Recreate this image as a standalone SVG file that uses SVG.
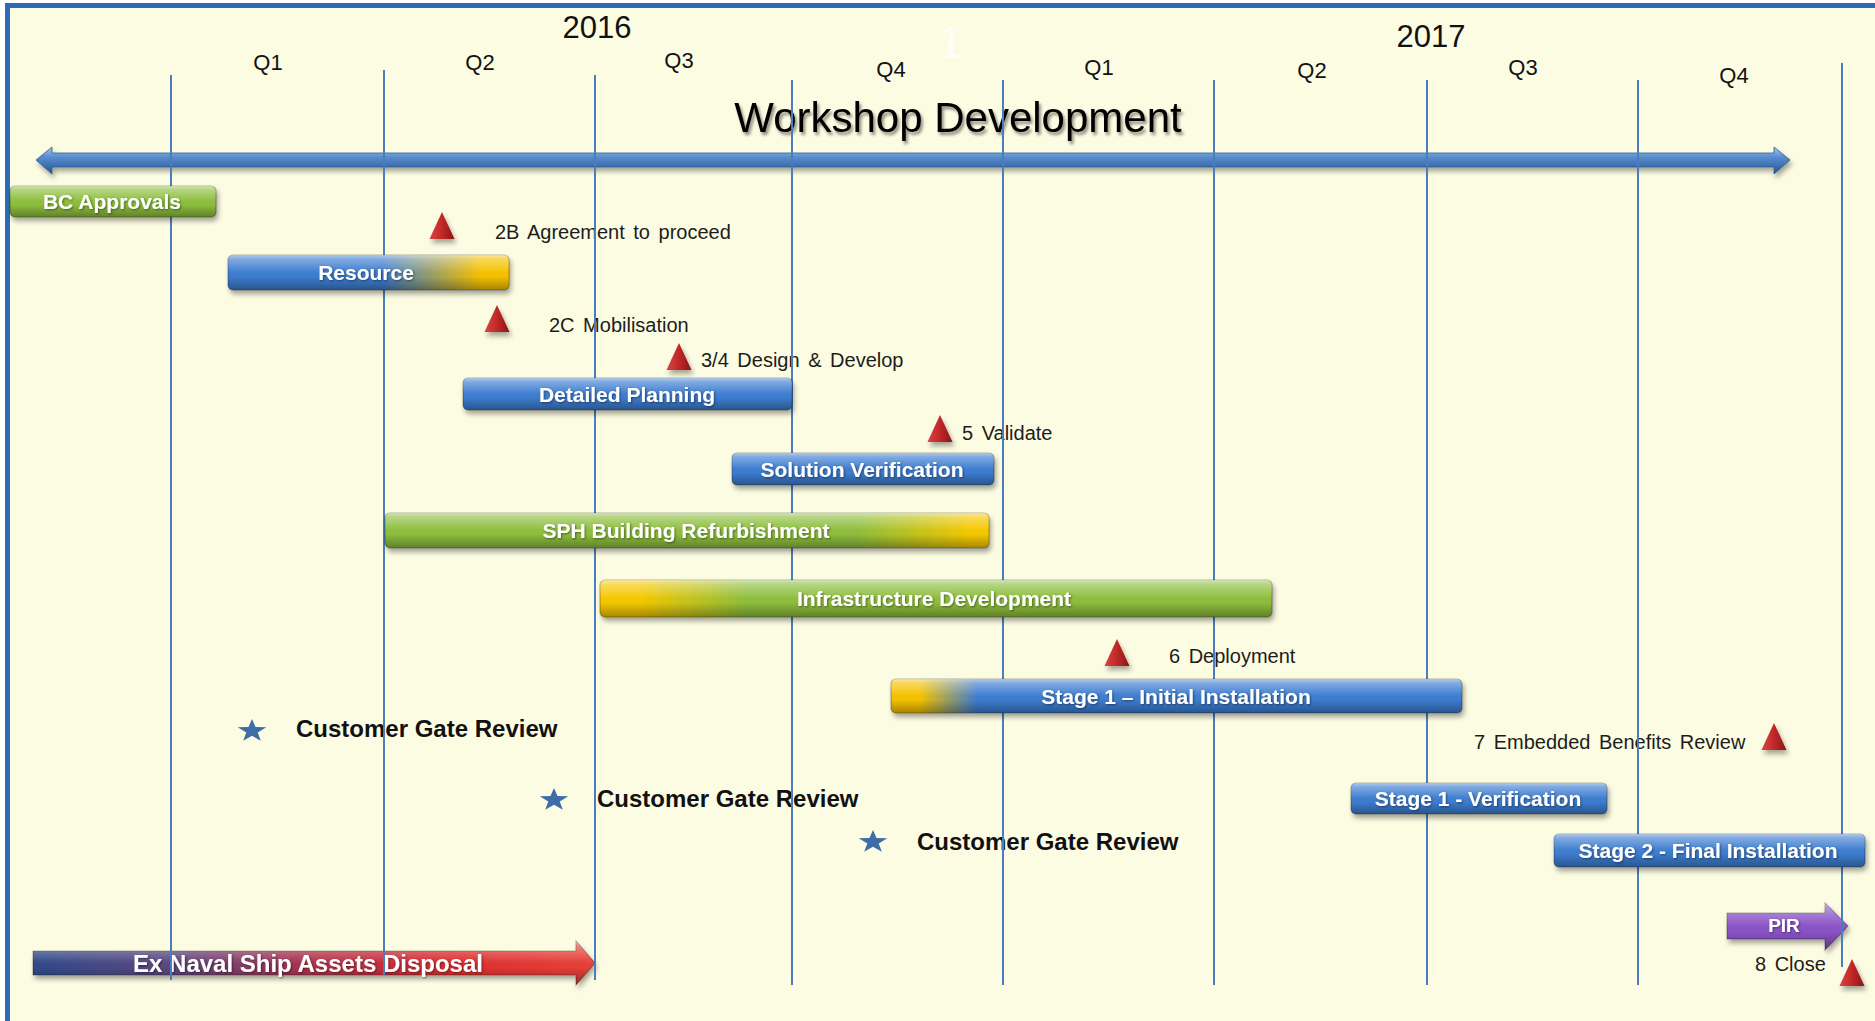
<svg xmlns="http://www.w3.org/2000/svg" width="1875" height="1021" viewBox="0 0 1875 1021">
<defs>
<style>
.frame{fill:#FCFCE3;stroke:#2C6CB6;stroke-width:5}
.grid line{stroke:#4A7DBE;stroke-width:2}
.q{font-family:"Liberation Sans",Arial,sans-serif;font-size:22px;fill:#111;text-anchor:middle}
.yr{font-family:"Liberation Sans",Arial,sans-serif;font-size:31px;fill:#111;text-anchor:middle}
.title{font-family:"Liberation Sans",Arial,sans-serif;font-size:42px;fill:#000;text-anchor:middle}
.bar .base{stroke:rgba(0,0,0,0.28);stroke-width:1.2}
.bar .gl{fill:url(#gloss)}
.bar text{font-family:"Liberation Sans",Arial,sans-serif;font-size:21px;font-weight:bold;fill:#fff;text-anchor:middle}
.ms text{font-family:"Liberation Sans",Arial,sans-serif;font-size:20px;fill:#1c1c1c;word-spacing:3px}
.gate text{font-family:"Liberation Sans",Arial,sans-serif;font-size:24px;font-weight:bold;fill:#111}
.star{fill:#3E6DA8}
</style>
<filter id="sh" x="-10%" y="-30%" width="125%" height="180%">
<feDropShadow dx="2" dy="4" stdDeviation="2.5" flood-color="#000" flood-opacity="0.35"/>
</filter>
<filter id="tsh" x="-5%" y="-20%" width="110%" height="150%">
<feDropShadow dx="2" dy="3" stdDeviation="1.6" flood-color="#000" flood-opacity="0.45"/>
</filter>
<filter id="lsh" x="-5%" y="-20%" width="110%" height="150%">
<feDropShadow dx="1" dy="1" stdDeviation="0.8" flood-color="#000" flood-opacity="0.45"/>
</filter>
<linearGradient id="gloss" x1="0" y1="0" x2="0" y2="1">
<stop offset="0" stop-color="#fff" stop-opacity="0.6"/>
<stop offset="0.12" stop-color="#fff" stop-opacity="0.35"/>
<stop offset="0.45" stop-color="#fff" stop-opacity="0.05"/>
<stop offset="0.6" stop-color="#000" stop-opacity="0"/>
<stop offset="1" stop-color="#000" stop-opacity="0.32"/>
</linearGradient>
<linearGradient id="gAxis" x1="0" y1="0" x2="0" y2="1">
<stop offset="0" stop-color="#A6CAEE"/>
<stop offset="0.35" stop-color="#5B8FD0"/>
<stop offset="0.7" stop-color="#3E6FB0"/>
<stop offset="1" stop-color="#2A4F82"/>
</linearGradient>
<linearGradient id="gRes" x1="0" y1="0" x2="1" y2="0">
<stop offset="0" stop-color="#3E7DD0"/>
<stop offset="0.55" stop-color="#3E7DD0"/>
<stop offset="0.9" stop-color="#F5C200"/>
<stop offset="1" stop-color="#F5C200"/>
</linearGradient>
<linearGradient id="gSPH" x1="0" y1="0" x2="1" y2="0">
<stop offset="0" stop-color="#8DBE3C"/>
<stop offset="0.78" stop-color="#8DBE3C"/>
<stop offset="0.97" stop-color="#F5C800"/>
<stop offset="1" stop-color="#F5C800"/>
</linearGradient>
<linearGradient id="gInfra" x1="0" y1="0" x2="1" y2="0">
<stop offset="0" stop-color="#F5C800"/>
<stop offset="0.06" stop-color="#F5C800"/>
<stop offset="0.22" stop-color="#8DBE3C"/>
<stop offset="1" stop-color="#8DBE3C"/>
</linearGradient>
<linearGradient id="gSt1" x1="0" y1="0" x2="1" y2="0">
<stop offset="0" stop-color="#F5C200"/>
<stop offset="0.05" stop-color="#F5C200"/>
<stop offset="0.15" stop-color="#3E7DD0"/>
<stop offset="1" stop-color="#3E7DD0"/>
</linearGradient>
<linearGradient id="gNaval" x1="0" y1="0" x2="1" y2="0">
<stop offset="0" stop-color="#2F4A8A"/>
<stop offset="0.25" stop-color="#5E467E"/>
<stop offset="0.5" stop-color="#B0304A"/>
<stop offset="0.75" stop-color="#DC2E2E"/>
<stop offset="1" stop-color="#E8403A"/>
</linearGradient>
<linearGradient id="gTri" x1="0" y1="0" x2="1" y2="0">
<stop offset="0" stop-color="#DA4444"/>
<stop offset="0.5" stop-color="#C02828"/>
<stop offset="1" stop-color="#8A1616"/>
</linearGradient>
<g id="tri"><path d="M0,0 L12.5,27 L-12.5,27 Z" fill="url(#gTri)" filter="url(#sh)"/></g>
<path id="star" d="M0,-12 L3.53,-3.88 L14.27,-3.71 L5.71,1.48 L8.82,9.71 L0,4.8 L-8.82,9.71 L-5.71,1.48 L-14.27,-3.71 L-3.53,-3.88 Z"/>
</defs>

<rect x="0" y="0" width="1875" height="1021" fill="#fff"/>
<rect class="frame" x="7.5" y="5.5" width="1900" height="1100"/>
<text x="950" y="58" font-family="Liberation Sans, Arial, sans-serif" font-size="44" fill="#fff" opacity="0.8" text-anchor="middle">1</text>

<g id="connectors">
<path id="timeline-axis" d="M36,160 L52,147 L52,153 L1774,153 L1774,147 L1790,160 L1774,174 L1774,167 L52,167 L52,174 Z" fill="url(#gAxis)" stroke="#2E5A92" stroke-width="0.8" filter="url(#sh)"/>
</g>

<g id="header">
<text class="yr" x="597" y="38">2016</text>
<text class="yr" x="1431" y="47">2017</text>
<text class="q" x="268" y="70">Q1</text>
<text class="q" x="480" y="70">Q2</text>
<text class="q" x="679" y="68">Q3</text>
<text class="q" x="891" y="77">Q4</text>
<text class="q" x="1099" y="75">Q1</text>
<text class="q" x="1312" y="78">Q2</text>
<text class="q" x="1523" y="75">Q3</text>
<text class="q" x="1734" y="83">Q4</text>
<text class="title" x="958" y="132" filter="url(#tsh)">Workshop Development</text>
</g>

<g id="arrow-ex-naval" class="bar">
<path class="base" d="M33,951 L576,951 L576,941 L595,963 L576,985 L576,975 L33,975 Z" fill="url(#gNaval)" filter="url(#sh)"/>
<path class="gl" d="M33,951 L576,951 L576,941 L595,963 L576,985 L576,975 L33,975 Z"/>
<text x="308" y="972" style="font-size:24px" filter="url(#lsh)">Ex Naval Ship Assets Disposal</text>
</g>

<g id="arrow-pir" class="bar">
<path class="base" d="M1727,913 L1825,913 L1825,903 L1848,926 L1825,950 L1825,939 L1727,939 Z" fill="#8A52C6" filter="url(#sh)"/>
<path class="gl" d="M1727,913 L1825,913 L1825,903 L1848,926 L1825,950 L1825,939 L1727,939 Z"/>
<text x="1784" y="932" style="font-size:19px" filter="url(#lsh)">PIR</text>
</g>

<g id="milestone-labels" class="ms">
<text id="lbl-2b" x="495" y="239">2B Agreement to proceed</text>
<text id="lbl-2c" x="549" y="332">2C Mobilisation</text>
<text id="lbl-34" x="701" y="367">3/4 Design &amp; Develop</text>
<text id="lbl-5" x="962" y="440">5 Validate</text>
<text id="lbl-6" x="1169" y="663">6 Deployment</text>
<text id="lbl-7" x="1474" y="749">7 Embedded Benefits Review</text>
<text id="lbl-8" x="1755" y="971">8 Close</text>
</g>

<g id="gate-1" class="gate"><use href="#star" class="star" x="252" y="731"/><text x="296" y="737">Customer Gate Review</text></g>
<g id="gate-2" class="gate"><use href="#star" class="star" x="554" y="800"/><text x="597" y="807">Customer Gate Review</text></g>
<g id="gate-3" class="gate"><use href="#star" class="star" x="873" y="842"/><text x="917" y="850">Customer Gate Review</text></g>

<g id="grid" class="grid">
<line x1="171" y1="75" x2="171" y2="980"/>
<line x1="384" y1="70" x2="384" y2="975"/>
<line x1="595" y1="75" x2="595" y2="980"/>
<line x1="792" y1="80" x2="792" y2="985"/>
<line x1="1003" y1="80" x2="1003" y2="985"/>
<line x1="1214" y1="80" x2="1214" y2="985"/>
<line x1="1427" y1="80" x2="1427" y2="985"/>
<line x1="1638" y1="80" x2="1638" y2="985"/>
<line x1="1842" y1="63" x2="1842" y2="967"/>
</g>

<g id="milestones">
<use id="ms-2b" href="#tri" x="442" y="212"/>
<use id="ms-2c" href="#tri" x="497" y="305"/>
<use id="ms-34" href="#tri" x="679" y="343"/>
<use id="ms-5" href="#tri" x="940" y="415"/>
<use id="ms-6" href="#tri" x="1117" y="639"/>
<use id="ms-7" href="#tri" x="1774" y="723"/>
<use id="ms-8" href="#tri" x="1852" y="959"/>
</g>

<g id="bar-bc-approvals" class="bar">
<rect class="base" x="10" y="186" width="206" height="31" rx="5" fill="#8DBE3C" filter="url(#sh)"/>
<rect class="gl" x="10" y="186" width="206" height="31" rx="5"/>
<text x="112" y="208.5" filter="url(#lsh)">BC Approvals</text>
</g>
<g id="bar-resource" class="bar">
<rect class="base" x="228" y="255" width="281" height="35" rx="5" fill="url(#gRes)" filter="url(#sh)"/>
<rect class="gl" x="228" y="255" width="281" height="35" rx="5"/>
<text x="366" y="280" filter="url(#lsh)">Resource</text>
</g>
<g id="bar-detailed-planning" class="bar">
<rect class="base" x="463" y="378" width="329" height="32" rx="5" fill="#3E7DD0" filter="url(#sh)"/>
<rect class="gl" x="463" y="378" width="329" height="32" rx="5"/>
<text x="627" y="401.5" filter="url(#lsh)">Detailed Planning</text>
</g>
<g id="bar-solution-verification" class="bar">
<rect class="base" x="732" y="453" width="262" height="32" rx="5" fill="#3E7DD0" filter="url(#sh)"/>
<rect class="gl" x="732" y="453" width="262" height="32" rx="5"/>
<text x="862" y="476.5" filter="url(#lsh)">Solution Verification</text>
</g>
<g id="bar-sph" class="bar">
<rect class="base" x="385" y="513" width="604" height="35" rx="5" fill="url(#gSPH)" filter="url(#sh)"/>
<rect class="gl" x="385" y="513" width="604" height="35" rx="5"/>
<text x="686" y="538" filter="url(#lsh)">SPH Building Refurbishment</text>
</g>
<g id="bar-infrastructure" class="bar">
<rect class="base" x="600" y="580" width="672" height="37" rx="5" fill="url(#gInfra)" filter="url(#sh)"/>
<rect class="gl" x="600" y="580" width="672" height="37" rx="5"/>
<text x="934" y="606" filter="url(#lsh)">Infrastructure Development</text>
</g>
<g id="bar-stage1-initial" class="bar">
<rect class="base" x="891" y="679" width="571" height="34" rx="5" fill="url(#gSt1)" filter="url(#sh)"/>
<rect class="gl" x="891" y="679" width="571" height="34" rx="5"/>
<text x="1176" y="703.5" filter="url(#lsh)">Stage 1 – Initial Installation</text>
</g>
<g id="bar-stage1-verification" class="bar">
<rect class="base" x="1351" y="783" width="256" height="31" rx="5" fill="#3E7DD0" filter="url(#sh)"/>
<rect class="gl" x="1351" y="783" width="256" height="31" rx="5"/>
<text x="1478" y="806" filter="url(#lsh)">Stage 1 - Verification</text>
</g>
<g id="bar-stage2-final" class="bar">
<rect class="base" x="1554" y="834" width="311" height="33" rx="5" fill="#3E7DD0" filter="url(#sh)"/>
<rect class="gl" x="1554" y="834" width="311" height="33" rx="5"/>
<text x="1708" y="858" filter="url(#lsh)">Stage 2 - Final Installation</text>
</g>
</svg>
